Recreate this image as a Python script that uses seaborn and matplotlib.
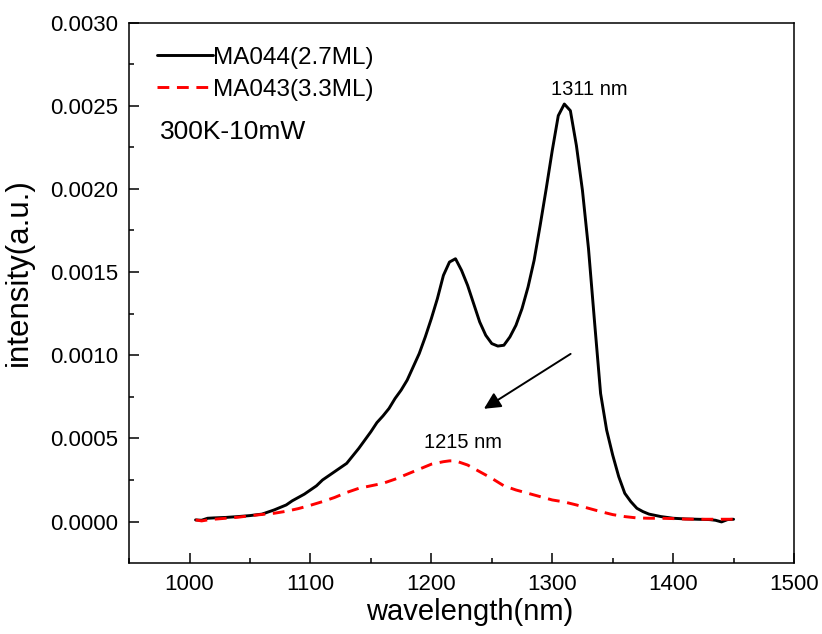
import matplotlib
matplotlib.use("Agg")
import matplotlib.pyplot as plt
from matplotlib.ticker import MultipleLocator, FormatStrFormatter
import numpy as np
import pandas as pd
import seaborn as sns

# PL spectra, intensity in units of 1e-3 (a.u.)
wl_ma044 = [1005, 1010, 1015, 1020, 1030, 1040, 1050, 1060, 1070, 1080,
            1085, 1090, 1095, 1100, 1105, 1110, 1120, 1130, 1140, 1145,
            1150, 1155, 1160, 1165, 1170, 1175, 1180, 1185, 1190, 1195,
            1200, 1205, 1210, 1215, 1220, 1225, 1230, 1235, 1240, 1245,
            1250, 1255, 1260, 1265, 1270, 1275, 1280, 1285, 1290, 1295,
            1300, 1305, 1310, 1315, 1320, 1325, 1330, 1335, 1340, 1345,
            1350, 1355, 1360, 1365, 1370, 1375, 1380, 1390, 1400, 1410,
            1420, 1430, 1435, 1440, 1445, 1450]
int_ma044 = [0.010, 0.008, 0.020, 0.022, 0.025, 0.030, 0.036, 0.045, 0.070, 0.100,
             0.125, 0.145, 0.165, 0.190, 0.215, 0.250, 0.300, 0.350, 0.440, 0.490,
             0.540, 0.595, 0.635, 0.680, 0.740, 0.790, 0.850, 0.930, 1.010, 1.110,
             1.220, 1.340, 1.480, 1.560, 1.580, 1.510, 1.420, 1.310, 1.200, 1.120,
             1.070, 1.055, 1.060, 1.110, 1.180, 1.280, 1.410, 1.570, 1.780, 2.000,
             2.230, 2.440, 2.510, 2.470, 2.260, 1.990, 1.640, 1.200, 0.770, 0.550,
             0.400, 0.270, 0.170, 0.120, 0.080, 0.060, 0.045, 0.030, 0.020, 0.016,
             0.014, 0.012, 0.008, -0.002, 0.012, 0.014]

wl_ma043 = [1005, 1010, 1015, 1020, 1030, 1040, 1050, 1060, 1070, 1080,
            1090, 1100, 1110, 1120, 1130, 1140, 1150, 1160, 1170, 1180,
            1190, 1200, 1210, 1215, 1220, 1230, 1240, 1250, 1260, 1270,
            1280, 1290, 1300, 1310, 1320, 1330, 1340, 1350, 1360, 1370,
            1380, 1390, 1400, 1410, 1420, 1430, 1440, 1450]
int_ma043 = [0.010, 0.004, 0.010, 0.014, 0.020, 0.026, 0.035, 0.043, 0.050, 0.062,
             0.078, 0.098, 0.120, 0.145, 0.175, 0.200, 0.215, 0.230, 0.255, 0.285,
             0.315, 0.345, 0.360, 0.365, 0.365, 0.340, 0.300, 0.260, 0.215, 0.190,
             0.170, 0.150, 0.130, 0.118, 0.100, 0.080, 0.060, 0.042, 0.030, 0.022,
             0.020, 0.020, 0.018, 0.015, 0.014, 0.014, 0.014, 0.014]

labels = ["MA044(2.7ML)", "MA043(3.3ML)"]
condition = "300K-10mW"
peak_labels = ["1311 nm", "1215 nm"]

sns.set_style("white")
plt.rcParams["font.family"] = ["Liberation Sans", "DejaVu Sans"]
plt.rcParams["lines.scale_dashes"] = False
for key in ["text.color", "axes.labelcolor", "xtick.color", "ytick.color"]:
    plt.rcParams[key] = "black"

df044 = pd.DataFrame({"wavelength": wl_ma044, "intensity": np.array(int_ma044) * 1e-3})
df043 = pd.DataFrame({"wavelength": wl_ma043, "intensity": np.array(int_ma043) * 1e-3})

fig = plt.figure(figsize=(8.22, 6.34), dpi=100)
ax = fig.add_axes([0.157, 0.1125, 0.809, 0.852])

sns.lineplot(data=df044, x="wavelength", y="intensity", ax=ax, color="black",
             linewidth=2.1, label=labels[0])
sns.lineplot(data=df043, x="wavelength", y="intensity", ax=ax, color="red",
             linewidth=2.1, linestyle=(0, (8.5, 5.5)), label=labels[1])

ax.set_xlim(950, 1500)
ax.set_ylim(-0.000247, 0.003)
ax.xaxis.set_major_locator(MultipleLocator(100))
ax.xaxis.set_minor_locator(MultipleLocator(50))
ax.yaxis.set_major_locator(MultipleLocator(0.0005))
ax.yaxis.set_minor_locator(MultipleLocator(0.00025))
ax.yaxis.set_major_formatter(FormatStrFormatter("%.4f"))

for side in ["left", "right", "top", "bottom"]:
    ax.spines[side].set_visible(True)
    ax.spines[side].set_color("black")
    ax.spines[side].set_linewidth(1.1)

ax.tick_params(which="both", direction="in", width=1.1, color="black",
               top=False, right=False, left=True, bottom=True)
ax.tick_params(which="major", length=7.2, pad=8, labelsize=16, labelcolor="black")
ax.tick_params(which="minor", length=3.6)

ax.set_xlabel("wavelength(nm)", fontsize=21)
ax.set_ylabel("intensity(a.u.)", fontsize=22.5)
ax.xaxis.set_label_coords(0.5125, -0.065)
ax.yaxis.set_label_coords(-0.143, 0.538)

leg = ax.legend(loc="upper left", bbox_to_anchor=(0.042, 0.955), frameon=False,
                fontsize=17.5, handlelength=2.3, handletextpad=0.0,
                borderpad=0, borderaxespad=0, labelspacing=0.4)
for t in leg.get_texts():
    t.set_color("black")

ax.text(0.046, 0.7976, condition, transform=ax.transAxes, fontsize=19,
        ha="left", va="center")
ax.text(1331, 0.00260, peak_labels[0], fontsize=14.5, ha="center", va="center")
ax.text(1226, 0.000473, peak_labels[1], fontsize=14.5, ha="center", va="center")

ax.annotate("", xy=(1243.5, 0.000678), xytext=(1315.2, 0.001008),
            arrowprops=dict(arrowstyle="-|>", color="black", lw=1.4,
                            mutation_scale=25, shrinkA=0, shrinkB=0))

fig.savefig("out.png", dpi=100)
